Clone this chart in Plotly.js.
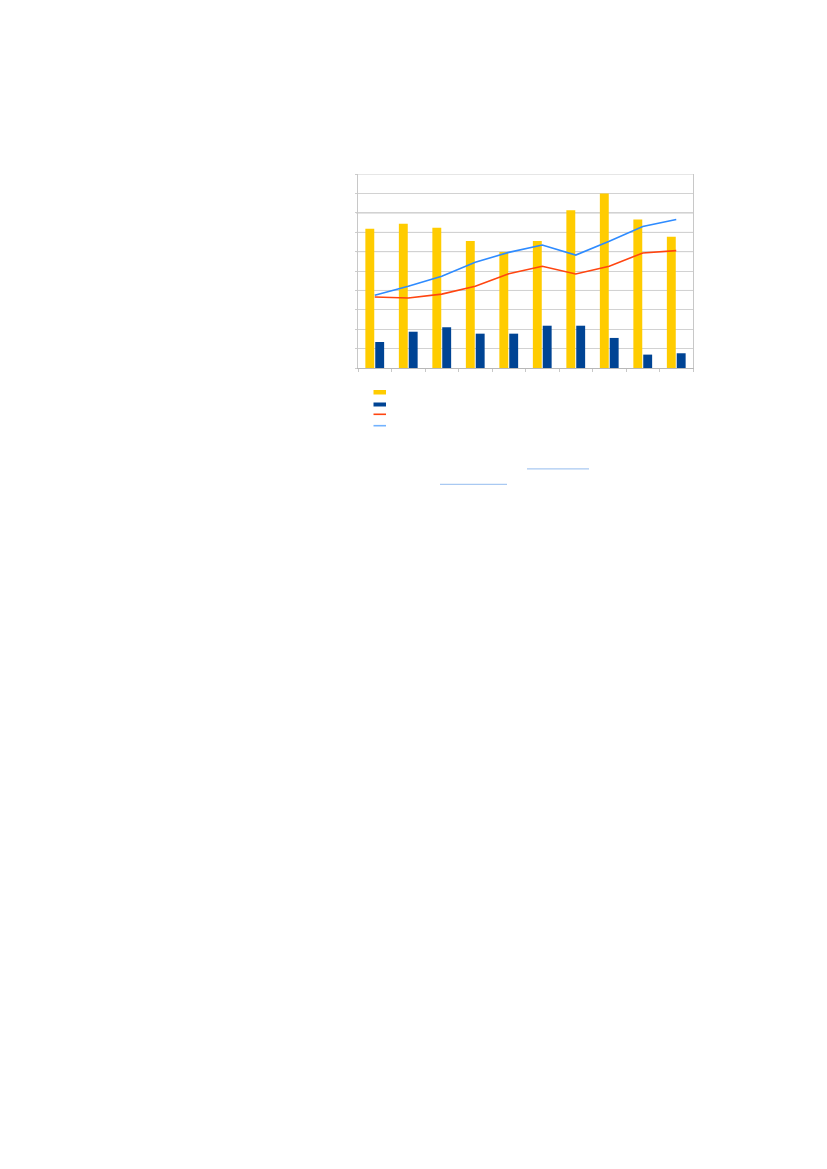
<!DOCTYPE html>
<html>
<head>
<meta charset="utf-8">
<script src="https://cdn.plot.ly/plotly-3.0.1.min.js"></script>
<style>html,body{margin:0;padding:0;background:#fff;}#chart{width:827px;height:1169px;}</style>
</head>
<body>
<div id="chart"></div>
<script>
// Data (no visible labels in the reference)
const categories = ["1","2","3","4","5","6","7","8","9","10"];
const barsYellow = [7.18, 7.44, 7.23, 6.55, 5.98, 6.55, 8.13, 8.99, 7.65, 6.77];
const barsBlue   = [1.34, 1.87, 2.10, 1.77, 1.77, 2.18, 2.18, 1.55, 0.69, 0.76];
const lineRed    = [3.66, 3.61, 3.81, 4.21, 4.86, 5.24, 4.85, 5.24, 5.93, 6.05];
const lineBlue   = [3.75, 4.21, 4.73, 5.45, 5.96, 6.34, 5.82, 6.53, 7.29, 7.65];

const W = 827, H = 1169;
const M = {l: 358, r: 134, t: 174, b: 801};
const pw = W - M.l - M.r, ph = H - M.t - M.b;
const px = x => (x - M.l) / pw;
const py = y => (H - M.b - y) / ph;

const traces = [
  {type:'bar', x:categories, y:barsYellow, marker:{color:'#FFCC00'}, name:' '},
  {type:'bar', x:categories, y:barsBlue, marker:{color:'#004494'}, name:' '},
  {type:'scatter', mode:'lines', x:categories, y:lineRed, line:{color:'#FF4510', width:1.6}, name:' '},
  {type:'scatter', mode:'lines', x:categories, y:lineBlue, line:{color:'#2E8BFF', width:1.6}, name:' '}
];

const shapes = [];
// emphasised gridlines
[[10,'#cdcdcd'],[8,'#a6a6a6'],[6,'#a6a6a6'],[7,'#ececec'],[4,'#ececec']].forEach(g => {
  shapes.push({type:'line', xref:'paper', yref:'y', x0:px(356), x1:1, y0:g[0], y1:g[0],
    line:{color:g[1], width:1}, layer:'below'});
});
// legend swatches
shapes.push({type:'rect', xref:'paper', yref:'paper', x0:px(373.5), x1:px(386), y0:py(394.5), y1:py(390), fillcolor:'#FFCC00', line:{width:0}});
shapes.push({type:'rect', xref:'paper', yref:'paper', x0:px(373.5), x1:px(386), y0:py(406.5), y1:py(402.5), fillcolor:'#004494', line:{width:0}});
shapes.push({type:'line', xref:'paper', yref:'paper', x0:px(373.5), x1:px(386), y0:py(414.3), y1:py(414.3), line:{color:'#FF4510', width:1.6}});
shapes.push({type:'line', xref:'paper', yref:'paper', x0:px(373.5), x1:px(386), y0:py(425.7), y1:py(425.7), line:{color:'#72B2FF', width:1.6}});
// link underlines
shapes.push({type:'line', xref:'paper', yref:'paper', x0:px(527), x1:px(589), y0:py(468.8), y1:py(468.8), line:{color:'#A9C9F2', width:1.3}});
shapes.push({type:'line', xref:'paper', yref:'paper', x0:px(440), x1:px(507), y0:py(484.4), y1:py(484.4), line:{color:'#A9C9F2', width:1.3}});

const layout = {
  width: W, height: H,
  margin: M,
  paper_bgcolor:'#fff', plot_bgcolor:'#fff',
  showlegend:false,
  barmode:'group', bargap:0.41, bargroupgap:0.1,
  xaxis:{type:'category', showticklabels:false, showgrid:false, zeroline:false,
    showline:true, linecolor:'#b8b8b8', linewidth:1,
    ticks:'outside', tickson:'boundaries', ticklen:3, tickcolor:'#c8c8c8'},
  yaxis:{range:[0,10], dtick:1, showticklabels:false, showgrid:true, gridcolor:'#d2d2d2', gridwidth:1,
    zeroline:false, showline:true, mirror:true, linecolor:'#c8c8c8', linewidth:1,
    ticks:'outside', ticklen:2, tickcolor:'#cdcdcd'},
  shapes: shapes
};

Plotly.newPlot('chart', traces, layout, {displayModeBar:false, staticPlot:true});
</script>
</body>
</html>
